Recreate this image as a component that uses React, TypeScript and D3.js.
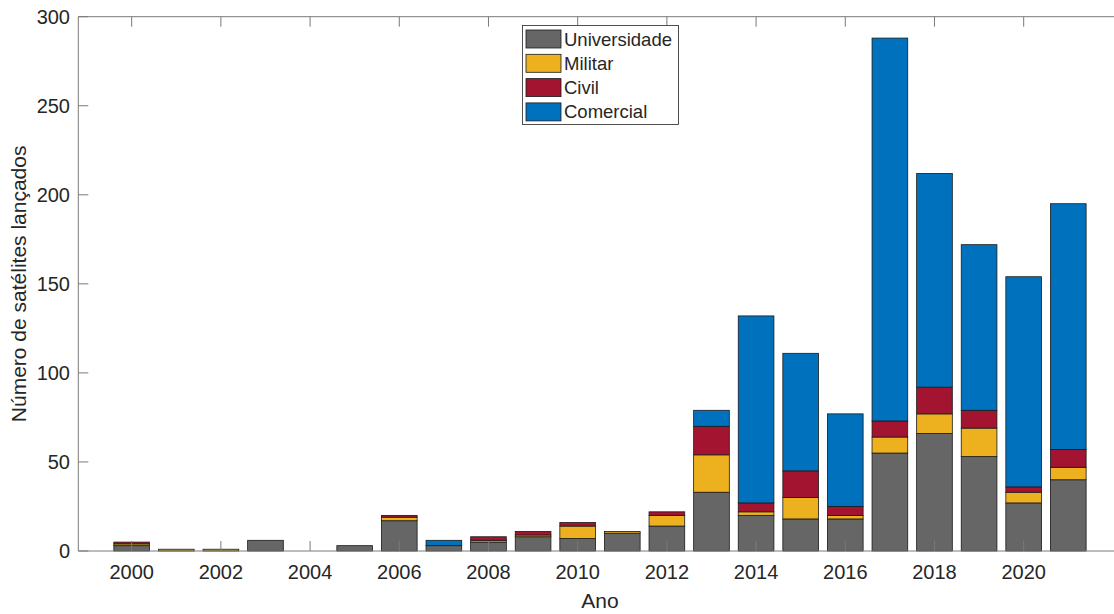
import React from "react";
import * as d3 from "d3";

const years = [2000,2001,2002,2003,2004,2005,2006,2007,2008,2009,2010,2011,2012,2013,2014,2015,2016,2017,2018,2019,2020,2021];
const universidade = [3,0,0,6,0,3,17,3,5,8,7,10,14,33,20,18,18,55,66,53,27,40];
const militar =      [1,1,1,0,0,0,2,0,1,1,7,1,6,21,2,12,2,9,11,16,6,7];
const civil =        [1,0,0,0,0,0,1,0,2,2,2,0,2,16,5,15,5,9,15,10,3,10];
const comercial =    [0,0,0,0,0,0,0,3,0,0,0,0,0,9,105,66,52,215,120,93,118,138];
const seriesNames = ["Universidade","Militar","Civil","Comercial"];
const seriesColors = ["#666666","#EDB120","#A2142F","#0072BD"];
const yTicks = [0,50,100,150,200,250,300];
const xTicks = [2000,2002,2004,2006,2008,2010,2012,2014,2016,2018,2020];

const W = 1114, H = 614;
const FONT = "'Liberation Sans', Arial, Helvetica, sans-serif";
const TXT = "#262626";

export default function App() {
  const x = d3.scaleLinear().domain([1998.803, 2022.2]).range([78.3, 1121.8]);
  const y = d3.scaleLinear().domain([0, 300]).range([551, 16.7]);
  const barW = x(2000.8) - x(2000);
  const rows = years.map((yr, i) => ({
    year: yr,
    Universidade: universidade[i],
    Militar: militar[i],
    Civil: civil[i],
    Comercial: comercial[i],
  }));
  const stacked = d3.stack<any>().keys(seriesNames)(rows);
  const [x0, x1] = x.range();
  const [yb, yt] = y.range();
  const tickLen = 10;

  return (
    <svg width={W} height={H} style={{ position: "absolute", left: 0, top: 0, background: "#fff" }} fontFamily={FONT}>
      <rect x={0} y={0} width={W} height={H} fill="#fff" />
      {stacked.map((s, si) => (
        <g key={s.key}>
          {s.map((d, i) => {
            const h = y(d[0]) - y(d[1]);
            if (h <= 0) return null;
            return (
              <rect key={i} x={x(years[i]) - barW / 2} y={y(d[1])} width={barW} height={h}
                fill={seriesColors[si]} stroke="#1a1a1a" strokeWidth={0.8} />
            );
          })}
        </g>
      ))}
      {/* axes box */}
      <line x1={x0} x2={x0} y1={yt} y2={yb} stroke="#7a7a7a" strokeWidth={1} />
      <line x1={x0} x2={x1} y1={yb} y2={yb} stroke="#7a7a7a" strokeWidth={1} />
      <line x1={x0} x2={x1} y1={yt} y2={yt} stroke="#7a7a7a" strokeWidth={1} />
      {yTicks.map(t => (
        <g key={t}>
          <line x1={x0} x2={x0 + tickLen} y1={y(t)} y2={y(t)} stroke="#7a7a7a" strokeWidth={1} />
          <text x={70} y={y(t)} textAnchor="end" dominantBaseline="central" fontSize={20} fill={TXT}>{t}</text>
        </g>
      ))}
      {xTicks.map(t => (
        <g key={t}>
          <line x1={x(t)} x2={x(t)} y1={yb} y2={yb - tickLen} stroke="#7a7a7a" strokeWidth={1} />
          <line x1={x(t)} x2={x(t)} y1={yt} y2={yt + tickLen} stroke="#7a7a7a" strokeWidth={1} />
          <text x={x(t)} y={579} textAnchor="middle" fontSize={20} fill={TXT}>{t}</text>
        </g>
      ))}
      <text x={(x0 + x1) / 2} y={608} textAnchor="middle" fontSize={21} fill={TXT}>Ano</text>
      <text transform={`translate(26,${(yt + yb) / 2}) rotate(-90)`} textAnchor="middle" fontSize={21} fill={TXT}>Número de satélites lançados</text>
      {/* legend */}
      <g>
        <rect x={522.5} y={25.5} width={156} height={99} fill="#fff" stroke="#262626" strokeWidth={0.8} />
        {seriesNames.map((n, i) => (
          <g key={n}>
            <rect x={526} y={30 + i * 24.3} width={35} height={18} fill={seriesColors[i]} stroke="#1a1a1a" strokeWidth={0.8} />
            <text x={564} y={39 + i * 24.3} dominantBaseline="central" fontSize={18.5} fill={TXT}>{n}</text>
          </g>
        ))}
      </g>
    </svg>
  );
}
